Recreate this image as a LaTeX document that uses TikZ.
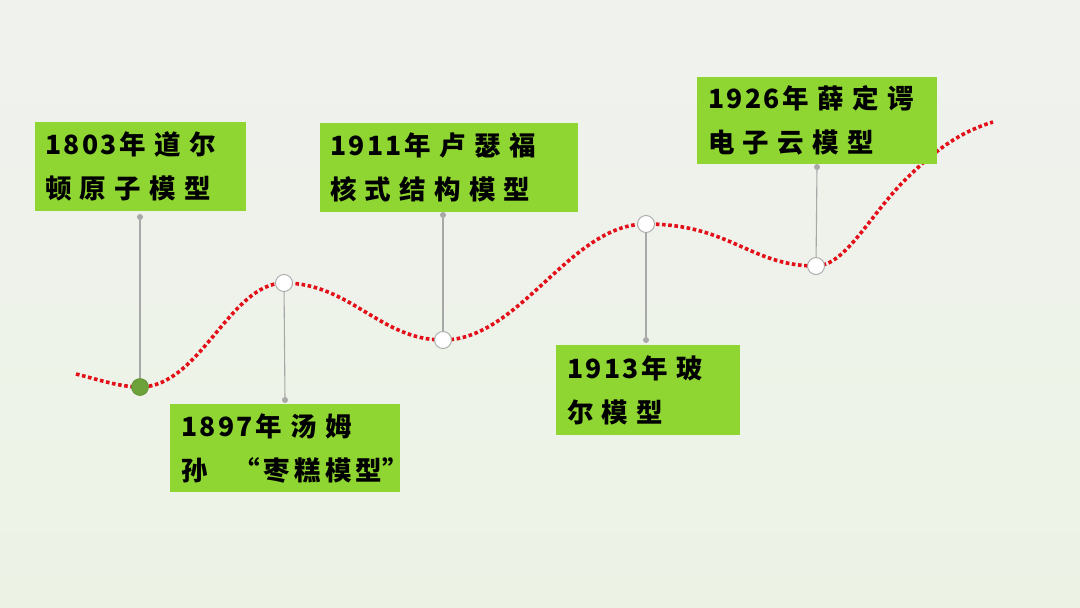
\documentclass[tikz,border=0pt]{standalone}
\usepackage{fontspec}
\newfontfamily\cjk{Noto Sans CJK SC}[BoldFont={Noto Sans CJK SC Black},LetterSpace=31]
\newcommand\yrnum[1]{{\addfontfeature{LetterSpace=9}#1}\hspace{3pt}}
\newcommand\tight[1]{{\addfontfeature{LetterSpace=16}#1}}
\definecolor{boxgreen}{HTML}{8FD632}
\definecolor{dotgreen}{HTML}{6DA23A}
\definecolor{linegray}{HTML}{A8A8A8}
\definecolor{curvered}{HTML}{E3101A}
\definecolor{bgtop}{HTML}{F0F2EE}
\definecolor{bgmid}{HTML}{E6EDE0}
\definecolor{bgbot}{HTML}{ECF3E5}
\tikzset{
  box/.style={rectangle, fill=boxgreen, anchor=north west, inner ysep=0pt,
    align=left, font=\cjk\bfseries\fontsize{26.5}{44}\selectfont, text=black},
  hole/.style={circle, draw=linegray, line width=0.9pt, fill=white, minimum size=17pt, inner sep=0pt},
  fullhole/.style={circle, draw=dotgreen!85!black, line width=0.6pt, fill=dotgreen, minimum size=17pt, inner sep=0pt},
  pin/.style={circle, fill=linegray, minimum size=6pt, inner sep=0pt},
  conn/.style={draw=linegray, line width=1.1pt},
  wave/.style={draw=curvered, line width=3.6pt, dash pattern=on 3.6pt off 2.6pt}
}
\begin{document}
\begin{tikzpicture}[x=1pt,y=-1pt]
\useasboundingbox (0,0) rectangle (1080,608);
\shade[top color=bgtop, middle color=bgmid, bottom color=bgbot] (0,0) rectangle (1080,608);

% wave
\draw[wave] (76,374) .. controls (100,380) and (120,387) .. (140,387)
  .. controls (200,387) and (230,283) .. (284,283)
  .. controls (350,283) and (380,340) .. (443,340)
  .. controls (520,340) and (570,224) .. (646,224)
  .. controls (730,224) and (750,266) .. (816,266)
  .. controls (845,266) and (870,215) .. (905,180)
  .. controls (935,150) and (960,132) .. (993,122);

% boxes
\node[box, minimum width=211pt, minimum height=89pt, text width=201pt, inner xsep=5pt] (b1803) at (35,122) {\hspace{5pt}\yrnum{1803}年道尔\\\hspace{5pt}顿原子模型};
\node[box, minimum width=230pt, minimum height=88pt, text width=220pt, inner xsep=5pt] (b1897) at (170,404) {\hspace{6pt}\yrnum{1897}年汤姆\\\makebox[210pt][l]{\hspace{6pt}\tight{孙}\makebox[56pt][r]{“\hspace{4pt}}\tight{枣糕模型}”}};
\node[box, minimum width=258pt, minimum height=89pt, text width=248pt, inner xsep=5pt] (b1911) at (320,123) {\hspace{5pt}\yrnum{1911}年卢瑟福\\\hspace{5pt}核式结构模型};
\node[box, minimum width=184pt, minimum height=90pt, text width=174pt, inner xsep=5pt] (b1913) at (556,345) {\hspace{6pt}\yrnum{1913}年玻\\\hspace{6pt}尔模型};
\node[box, minimum width=240pt, minimum height=87pt, text width=230pt, inner xsep=5pt] (b1926) at (697,77) {\hspace{6pt}\yrnum{1926}年薛定谔\\\hspace{6pt}电子云模型};

% pins and holes
\node[pin] (p1803) at (140,217) {};
\node[fullhole] (h1803) at (140,387) {};
\node[hole] (h1897) at (284,283) {};
\node[pin] (p1897) at (285,400) {};
\node[pin] (p1911) at (443,215) {};
\node[hole] (h1911) at (443,340) {};
\node[hole] (h1913) at (646,224) {};
\node[pin] (p1913) at (646,340) {};
\node[pin] (p1926) at (817,167) {};
\node[hole] (h1926) at (816,266) {};

\draw[conn] (p1803) -- (h1803);
\draw[conn] (h1897) -- (p1897);
\draw[conn] (p1911) -- (h1911);
\draw[conn] (h1913) -- (p1913);
\draw[conn] (p1926) -- (h1926);
\end{tikzpicture}
\end{document}
